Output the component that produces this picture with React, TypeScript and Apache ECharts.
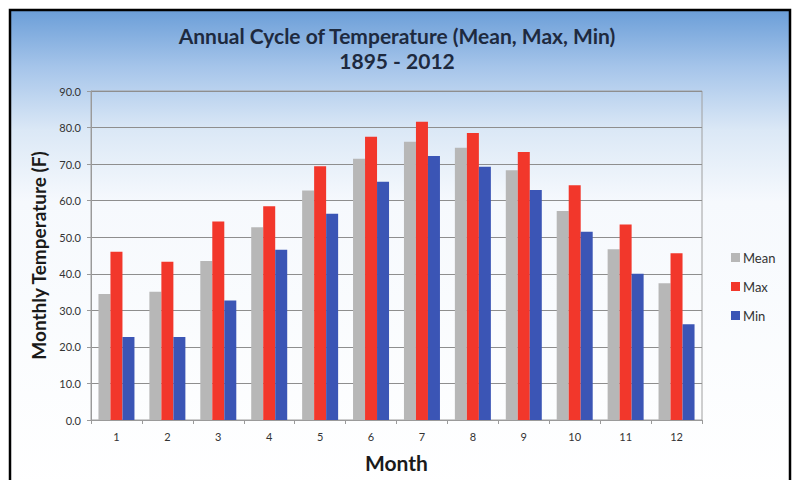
import React, { useEffect, useRef } from "react";
import * as echarts from "echarts";

const months = ["1", "2", "3", "4", "5", "6", "7", "8", "9", "10", "11", "12"];
const meanTemps = [34.5, 35.1, 43.5, 52.7, 62.8, 71.5, 76.1, 74.5, 68.3, 57.2, 46.7, 37.4];
const maxTemps = [46.0, 43.3, 54.3, 58.5, 69.4, 77.5, 81.6, 78.5, 73.3, 64.2, 53.5, 45.6];
const minTemps = [22.7, 22.7, 32.7, 46.6, 56.4, 65.2, 72.2, 69.3, 62.9, 51.5, 40.0, 26.2];

const FONT = "Lato, 'Open Sans', sans-serif";

export default function App() {
  const ref = useRef<HTMLDivElement>(null);
  useEffect(() => {
    document.body.style.margin = "0";
    const chart = echarts.init(ref.current!, undefined, { renderer: "svg" });
    chart.setOption({
      animation: false,
      backgroundColor: "#ffffff",
      graphic: [
        {
          type: "rect",
          z: -10,
          silent: true,
          shape: { x: 10, y: 10, width: 780, height: 480 },
          style: {
            fill: new echarts.graphic.LinearGradient(0, 0, 0, 1, [
              { offset: 0, color: "#6b9ed8" },
              { offset: 0.12, color: "#a6c5ea" },
              { offset: 0.25, color: "#dbe8f6" },
              { offset: 0.4, color: "#f6f9fd" },
              { offset: 1, color: "#ffffff" },
            ]),
            stroke: "#000000",
            lineWidth: 2.5,
          },
        },
      ],
      title: {
        text: "Annual Cycle of Temperature (Mean, Max, Min)\n1895 - 2012",
        left: "center",
        top: 18,
        textStyle: {
          fontFamily: FONT,
          fontSize: 21,
          fontWeight: "bold",
          color: "#1e2a3f",
          lineHeight: 25,
        },
      },
      legend: {
        orient: "vertical",
        left: 726,
        top: 246,
        itemWidth: 9,
        itemHeight: 9,
        itemGap: 16,
        icon: "rect",
        textStyle: { fontFamily: FONT, fontSize: 13, color: "#333333", padding: [0, 0, 0, -2] },
        data: ["Mean", "Max", "Min"],
      },
      grid: {
        left: 91,
        right: 92,
        top: 91,
        bottom: 60,
        show: true,
        borderColor: "#a0a0a0",
        borderWidth: 1,
      },
      xAxis: {
        type: "category",
        data: months,
        name: "Month",
        nameLocation: "middle",
        nameGap: 32,
        nameTextStyle: { fontFamily: FONT, fontSize: 21, fontWeight: "bold", color: "#1a1a1a" },
        axisLine: { lineStyle: { color: "#9a9a9a" } },
        axisTick: { show: true, length: 4, lineStyle: { color: "#9a9a9a" } },
        axisLabel: { fontFamily: FONT, fontSize: 11, color: "#333333", margin: 11 },
      },
      yAxis: {
        type: "value",
        min: 0,
        max: 90,
        interval: 10,
        name: "Monthly Temperature (F)",
        nameLocation: "middle",
        nameGap: 34,
        nameTextStyle: { fontFamily: FONT, fontSize: 19, fontWeight: "bold", color: "#1a1a1a" },
        axisLine: { show: true, lineStyle: { color: "#9a9a9a" } },
        axisTick: { show: true, length: 4, lineStyle: { color: "#9a9a9a" } },
        axisLabel: {
          fontFamily: FONT,
          fontSize: 11,
          color: "#333333",
          margin: 10,
          formatter: (v: number) => v.toFixed(1),
        },
        splitLine: { lineStyle: { color: "#8e8e8e", width: 1 } },
      },
      series: [
        { name: "Mean", type: "bar", data: meanTemps, barWidth: 12, barGap: "0%", itemStyle: { color: "#b7b7b7" } },
        { name: "Max", type: "bar", data: maxTemps, barWidth: 12, barGap: "0%", itemStyle: { color: "#f2372b" } },
        { name: "Min", type: "bar", data: minTemps, barWidth: 12, barGap: "0%", itemStyle: { color: "#3b55b5" } },
      ],
    });
    return () => chart.dispose();
  }, []);
  return <div ref={ref} style={{ width: 794, height: 480 }} />;
}
